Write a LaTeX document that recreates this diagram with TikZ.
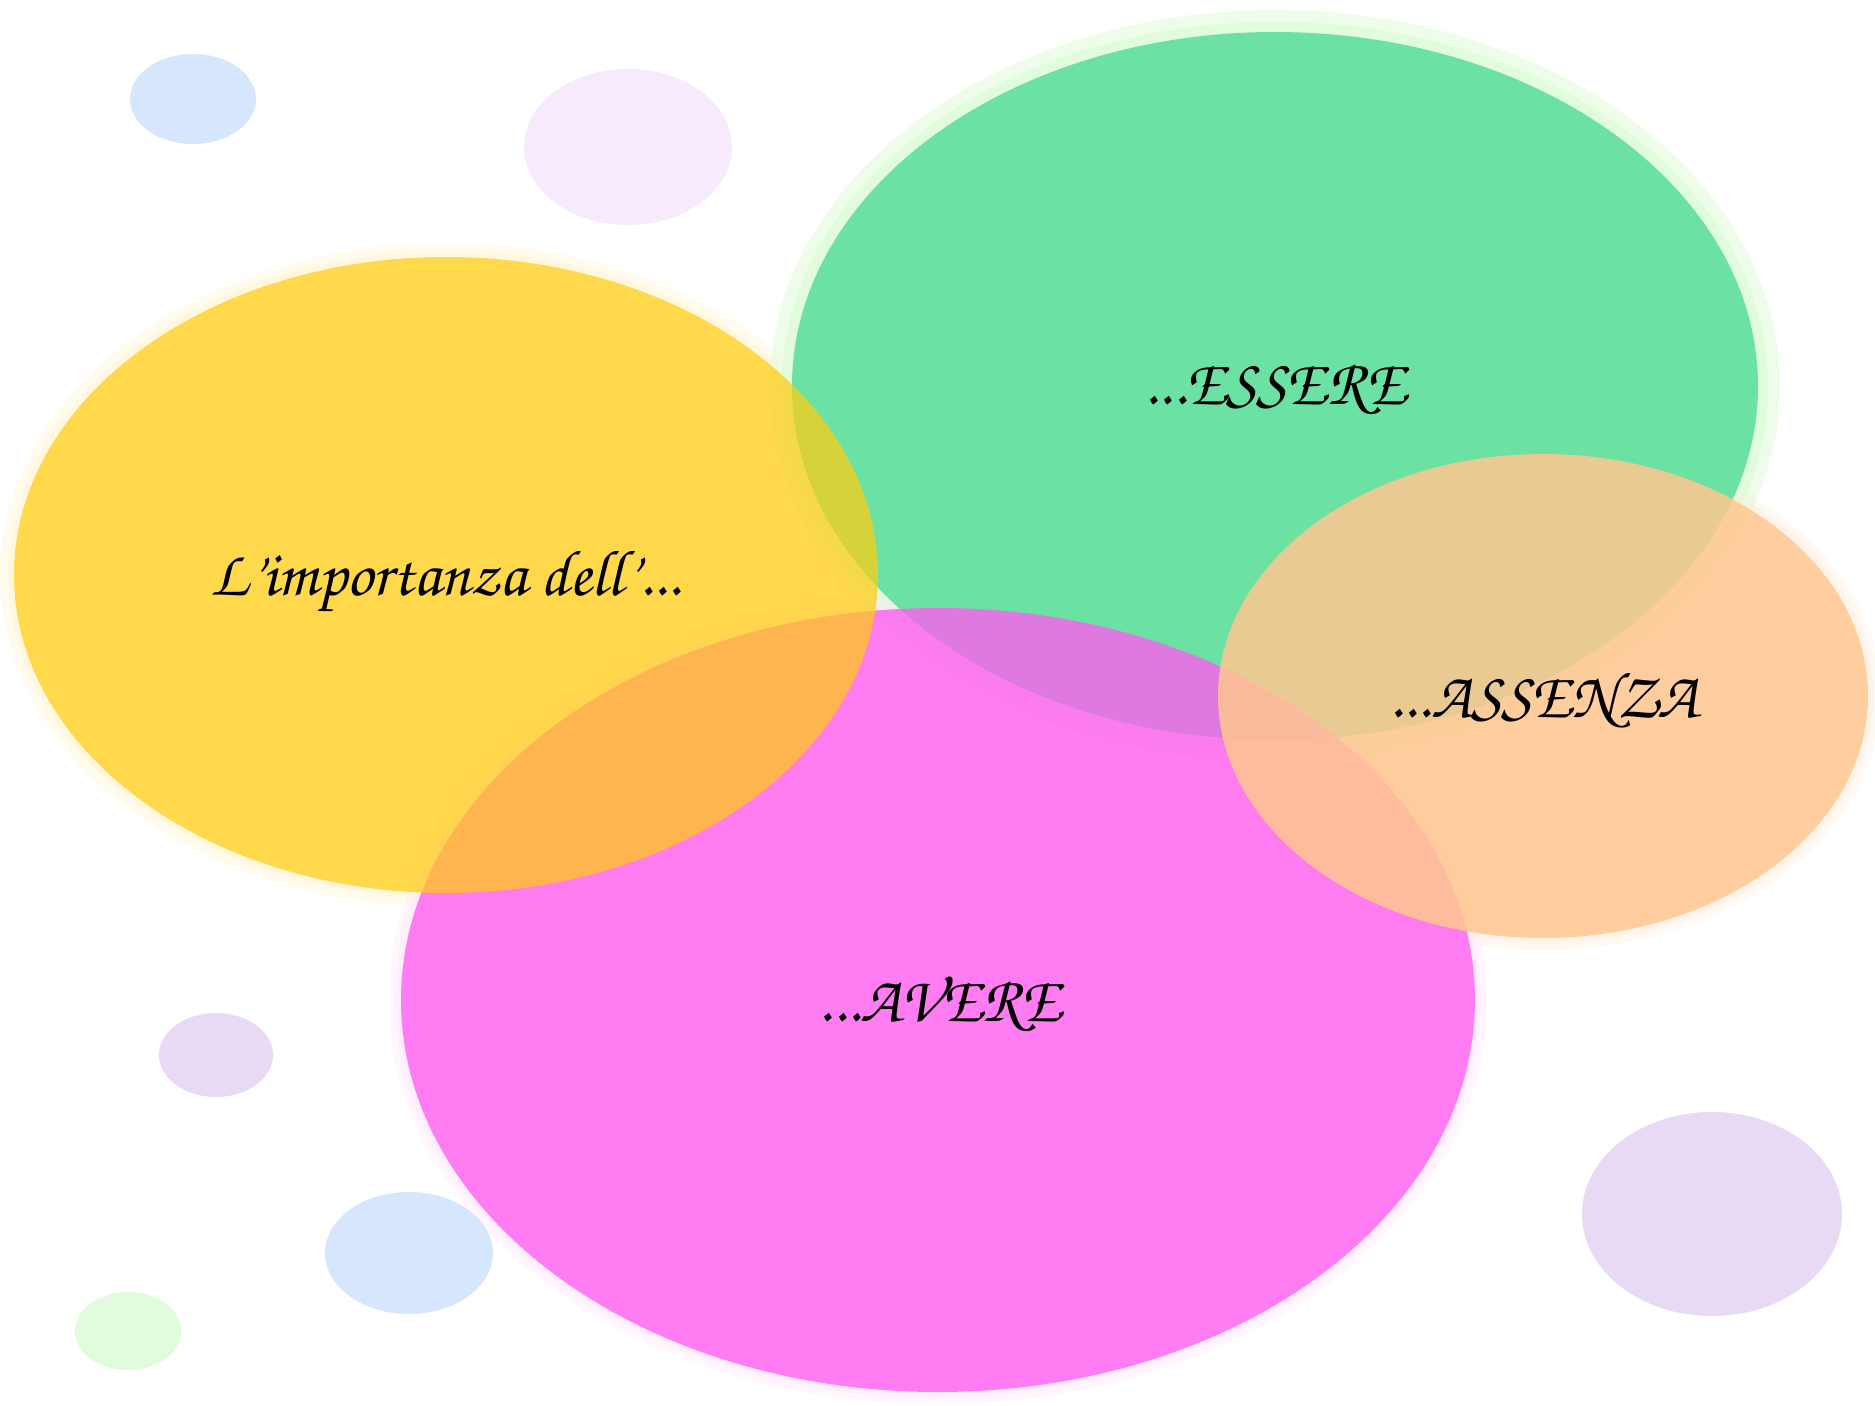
\documentclass[tikz,border=0pt]{standalone}
\usepackage[T1,TU]{fontenc}
\usepackage{tikz}

\definecolor{giallo}{HTML}{FFCC12}
\definecolor{verde}{HTML}{5FE09E}
\definecolor{arancio}{HTML}{FFC791}
\definecolor{magenta}{HTML}{FF5CF0}
\definecolor{azzurrino}{HTML}{D6E6FC}
\definecolor{lilla}{HTML}{F6EAFC}
\definecolor{viola}{HTML}{E8DAF4}
\definecolor{verdino}{HTML}{E1FCDC}

\tikzset{
  bolla/.style={opacity=#1},
  alone/.style={opacity=0.25},
  etichetta/.style={font=\usefont{T1}{pzc}{m}{it}\fontsize{18.5}{22}\selectfont, text=black}
}

\begin{document}
\begin{tikzpicture}[x=0.01cm, y=-0.01cm]
        \useasboundingbox (0,0) rectangle (1875,1406);
        \fill[white] (0,0) rectangle (1875,1406);

        % Palline di sfondo
        \fill[azzurrino] (193,99) ellipse (63 and 45);
        \fill[lilla] (628,147) ellipse (104 and 78);
        \fill[viola] (216,1055) ellipse (57 and 42);
        \fill[azzurrino] (409,1253) ellipse (84 and 61);
        \fill[verdino] (128,1331) ellipse (53 and 39);
        \fill[viola] (1712,1214) ellipse (130 and 102);

        % Aloni sfumati
        \fill[giallo!30, alone] (446,575) ellipse (446 and 332);
        \fill[giallo!30, alone] (446,575) ellipse (438 and 324);
        \fill[verdino, opacity=0.6] (1275,386) ellipse (505 and 376);
        \fill[verdino] (1275,386) ellipse (493 and 364);
        \fill[magenta!20, alone] (938,1000) ellipse (549 and 404);
        \fill[magenta!20, alone] (938,1000) ellipse (543 and 398);
        \fill[arancio!40, alone] (1543,696) ellipse (337 and 254);
        \fill[arancio!40, alone] (1543,696) ellipse (331 and 248);

        % Ellisse verde
        \fill[verde, bolla=0.9] (1275,386) ellipse (483 and 354);
        % Ellisse magenta
        \fill[magenta, bolla=0.78] (938,1000) ellipse (537 and 392);
        % Ellisse gialla
        \fill[giallo, bolla=0.72] (446,575) ellipse (432 and 318);
        % Ellisse arancio
        \fill[arancio, bolla=0.85] (1543,696) ellipse (325 and 242);

        % Testi
        \node[etichetta] (titolo) at (446,582) {L'importanza dell'...};
        \node[etichetta] (essere) at (1275,389) {...ESSERE};
        \node[etichetta] (assenza) at (1543,700) {...ASSENZA};
        \node[etichetta] (avere) at (940,1004) {...AVERE};

    \end{tikzpicture}
\end{document}
